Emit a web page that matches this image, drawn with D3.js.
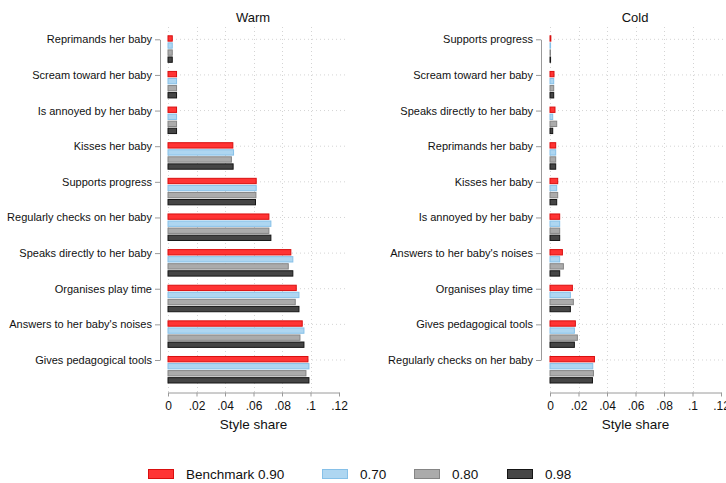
<!DOCTYPE html>
<html>
<head>
<meta charset="utf-8">
<script src="https://cdn.jsdelivr.net/npm/d3@7"></script>
<style>
  body { margin: 0; background: #fff; }
  svg { font-family: "Liberation Sans", Arial, sans-serif; }
</style>
</head>
<body>
<div id="container"></div>
<script>
// series (legend order)
var seriesLabels = ["Benchmark 0.90", "0.70", "0.80", "0.98"];
var seriesFill = ["#ff3434", "#aed6f1", "#ababab", "#454545"];
var seriesStroke = ["#d90f0f", "#86c0e8", "#858585", "#151515"];

// Warm panel
var warmCategories = ["Reprimands her baby", "Scream toward her baby", "Is annoyed by her baby",
  "Kisses her baby", "Supports progress", "Regularly checks on her baby",
  "Speaks directly to her baby", "Organises play time", "Answers to her baby's noises",
  "Gives pedagogical tools"];
var warmBench = [0.003, 0.006, 0.006, 0.0455, 0.0619, 0.0708, 0.0862, 0.0900, 0.0942, 0.0982];
var warm070   = [0.003, 0.006, 0.006, 0.0460, 0.0619, 0.0722, 0.0876, 0.0919, 0.0954, 0.0989];
var warm080   = [0.003, 0.006, 0.006, 0.0445, 0.0617, 0.0708, 0.0844, 0.0893, 0.0926, 0.0968];
var warm098   = [0.003, 0.006, 0.006, 0.0457, 0.0614, 0.0722, 0.0876, 0.0919, 0.0954, 0.0989];

// Cold panel
var coldCategories = ["Supports progress", "Scream toward her baby", "Speaks directly to her baby",
  "Reprimands her baby", "Kisses her baby", "Is annoyed by her baby",
  "Answers to her baby's noises", "Organises play time", "Gives pedagogical tools",
  "Regularly checks on her baby"];
var coldBench = [0.0006, 0.0028, 0.0035, 0.0040, 0.0054, 0.0068, 0.0087, 0.0157, 0.0178, 0.0312];
var cold070   = [0.0004, 0.0026, 0.0019, 0.0040, 0.0047, 0.0068, 0.0068, 0.0143, 0.0171, 0.0300];
var cold080   = [0.0002, 0.0026, 0.0047, 0.0040, 0.0054, 0.0068, 0.0094, 0.0164, 0.0192, 0.0305];
var cold098   = [0.0004, 0.0026, 0.0019, 0.0040, 0.0047, 0.0068, 0.0068, 0.0143, 0.0171, 0.0298];

var xTicks = [0, 0.02, 0.04, 0.06, 0.08, 0.1, 0.12];
var xTickLabels = ["0", ".02", ".04", ".06", ".08", ".1", ".12"];

var svg = d3.select("#container")
  .append("svg")
  .attr("width", 726)
  .attr("height", 483);

function drawPanel(opts) {
  var cats = opts.categories;
  var values = opts.values;

  var xScale = d3.scaleLinear().domain([0, 0.12]).range([opts.x0, opts.x0 + 171]);

  // group bands
  var yScale = d3.scaleBand().domain(cats).range([35.3, 383.5]).paddingInner(0.228).paddingOuter(0);
  var inner = d3.scaleBand().domain(d3.range(4)).range([0, yScale.bandwidth()]).paddingInner(0.1);
  // tick positions, through the first bar of each group
  var yTick = d3.scalePoint().domain(cats)
    .range([yScale(cats[0]) + 4, yScale(cats[cats.length - 1]) + 4]);

  var g = svg.append("g");

  // gridlines
  g.selectAll(".hgrid").data(cats).enter().append("line")
    .attr("x1", opts.x0).attr("x2", opts.gridRight)
    .attr("y1", function(d) { return yTick(d); })
    .attr("y2", function(d) { return yTick(d); })
    .attr("stroke", "#d4d4d4").attr("stroke-width", 1)
    .attr("stroke-dasharray", "1,3");
  g.selectAll(".vgrid").data(xTicks.slice(0, 6)).enter().append("line")
    .attr("x1", function(d) { return Math.round(xScale(d)) + 0.5; })
    .attr("x2", function(d) { return Math.round(xScale(d)) + 0.5; })
    .attr("y1", 27).attr("y2", 392)
    .attr("stroke", "#d4d4d4").attr("stroke-width", 1)
    .attr("stroke-dasharray", "1,3");

  // bars
  cats.forEach(function(c, i) {
    values.forEach(function(arr, s) {
      g.append("rect")
        .attr("x", xScale(0))
        .attr("y", yScale(c) + inner(s) + 0.5)
        .attr("width", Math.max(xScale(arr[i]) - xScale(0), 0.5))
        .attr("height", inner.bandwidth() - 1)
        .attr("fill", seriesFill[s])
        .attr("stroke", seriesStroke[s])
        .attr("stroke-width", 1);
    });
  });

  // y axis
  var yAxis = g.append("g")
    .attr("transform", "translate(" + opts.axisX + ",0)")
    .call(d3.axisLeft(yTick).tickSize(5).tickSizeOuter(0).tickPadding(3));
  yAxis.select(".domain").attr("stroke", "#9a9a9a");
  yAxis.selectAll(".tick line").attr("stroke", "#9a9a9a");
  yAxis.selectAll(".tick text").attr("fill", "#111").style("font-size", "11px")
    .style("font-family", "Liberation Sans, Arial, sans-serif");

  // x axis
  var xAxis = g.append("g")
    .attr("transform", "translate(0,392.5)")
    .call(d3.axisBottom(xScale).tickValues(xTicks)
      .tickFormat(function(d, i) { return xTickLabels[i]; })
      .tickSize(4).tickSizeOuter(0).tickPadding(5));
  xAxis.select(".domain").attr("stroke", "#9a9a9a");
  xAxis.selectAll(".tick line").attr("stroke", "#9a9a9a");
  xAxis.selectAll(".tick text").attr("fill", "#111").style("font-size", "12px")
    .style("font-family", "Liberation Sans, Arial, sans-serif");

  // axis title
  g.append("text")
    .attr("x", (xScale(0) + xScale(0.12)) / 2)
    .attr("y", 429)
    .attr("text-anchor", "middle")
    .style("font-size", "13.5px")
    .attr("fill", "#111")
    .text("Style share");

  // panel title
  g.append("text")
    .attr("x", opts.titleX)
    .attr("y", 21.5)
    .attr("text-anchor", "middle")
    .style("font-size", "13px")
    .attr("fill", "#111")
    .text(opts.title);
}

drawPanel({
  title: "Warm", titleX: 253,
  categories: warmCategories,
  values: [warmBench, warm070, warm080, warm098],
  x0: 168, axisX: 160, gridRight: 345
});

drawPanel({
  title: "Cold", titleX: 635,
  categories: coldCategories,
  values: [coldBench, cold070, cold080, cold098],
  x0: 550, axisX: 541, gridRight: 726
});

// legend
var legendX = [148, 322, 414, 507];
var legend = svg.append("g");
seriesLabels.forEach(function(lbl, i) {
  legend.append("rect")
    .attr("x", legendX[i] + 0.5).attr("y", 469.5)
    .attr("width", 25).attr("height", 9)
    .attr("fill", seriesFill[i])
    .attr("stroke", seriesStroke[i]);
  legend.append("text")
    .attr("x", legendX[i] + 38).attr("y", 479)
    .style("font-size", "13.5px")
    .attr("fill", "#111")
    .text(lbl);
});
</script>
</body>
</html>
